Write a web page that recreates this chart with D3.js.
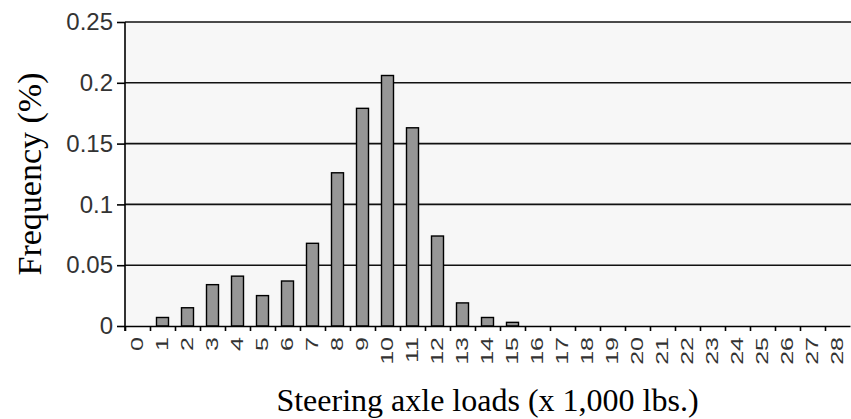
<!DOCTYPE html>
<html>
<head>
<meta charset="utf-8">
<script src="https://cdn.jsdelivr.net/npm/d3@7"></script>
<style>
  html, body { margin: 0; padding: 0; background: #fff; }
  svg { display: block; }
</style>
</head>
<body>
<div class="graphic"></div>
<script>
// steering axle load spectrum
var loads = d3.range(0, 29)   // x 1,000 lbs
var freq = [0, 0.007, 0.015, 0.034, 0.041, 0.025, 0.037, 0.068, 0.126, 0.179,
            0.206, 0.163, 0.074, 0.019, 0.007, 0.003, 0, 0, 0, 0,
            0, 0, 0, 0, 0, 0, 0, 0, 0]
var yTicks = [0, 0.05, 0.1, 0.15, 0.2, 0.25]
var yTickLabels = ['0', '0.05', '0.1', '0.15', '0.2', '0.25']
var xTitle = 'Steering axle loads (x 1,000 lbs.)'
var yTitle = 'Frequency (%)'

var width = 851
var height = 419
var plot = { left: 125, right: 850, top: 22, bottom: 326 }

var svg = d3.select('.graphic').append('svg')
    .attr('width', width)
    .attr('height', height)

var x = d3.scaleBand()
    .domain(loads)
    .range([plot.left, plot.right])
    .paddingInner(0.52)
    .paddingOuter(0.26)

// category boundaries for the tick marks
var xEdge = d3.scaleLinear()
    .domain([0, loads.length])
    .range([plot.left, plot.right])

var y = d3.scaleLinear()
    .domain([0, 0.25])
    .range([plot.bottom, plot.top])

// plot area
svg.append('rect')
    .attr('x', plot.left)
    .attr('y', plot.top)
    .attr('width', plot.right - plot.left + 1)
    .attr('height', plot.bottom - plot.top)
    .attr('fill', '#f7f7f7')

// gridlines
svg.append('g')
    .selectAll('line')
    .data(yTicks.filter(function(d) { return d > 0 }))
    .join('line')
    .attr('x1', plot.left)
    .attr('x2', width)
    .attr('y1', function(d) { return y(d) })
    .attr('y2', function(d) { return y(d) })
    .attr('stroke', '#111')
    .attr('stroke-width', 1.6)

// bars
svg.append('g')
    .selectAll('rect')
    .data(loads.filter(function(d) { return freq[d] > 0 }))
    .join('rect')
    .attr('x', function(d) { return x(d) })
    .attr('y', function(d) { return y(freq[d]) })
    .attr('width', x.bandwidth())
    .attr('height', function(d) { return y(0) - y(freq[d]) })
    .attr('fill', '#969696')
    .attr('stroke', '#000')
    .attr('stroke-width', 1.4)

// y axis
var yAxis = svg.append('g')
    .attr('transform', 'translate(' + plot.left + ',0)')
    .call(d3.axisLeft(y)
        .tickValues(yTicks)
        .tickFormat(function(d, i) { return yTickLabels[i] })
        .tickSize(8)
        .tickPadding(4))
yAxis.select('.domain')
    .attr('d', 'M0,' + plot.top + 'V' + (plot.bottom + 5))
    .attr('stroke', '#000')
    .attr('stroke-width', 1.6)
yAxis.selectAll('.tick line').attr('stroke', '#000').attr('stroke-width', 1.6)
yAxis.selectAll('text')
    .attr('fill', '#333')
    .style('font-family', '"Liberation Sans", Arial, sans-serif')
    .style('font-size', '24px')

// x axis: ticks between categories
var xTickAxis = svg.append('g')
    .attr('transform', 'translate(0,' + plot.bottom + ')')
    .call(d3.axisBottom(xEdge)
        .tickValues(d3.range(0, loads.length))
        .tickFormat('')
        .tickSize(5)
        .tickSizeOuter(0))
xTickAxis.select('.domain').attr('stroke', '#000').attr('stroke-width', 1.6)
xTickAxis.selectAll('.tick line').attr('stroke', '#000').attr('stroke-width', 1.6)

// x labels, rotated
svg.append('g')
    .selectAll('text')
    .data(loads)
    .join('text')
    .attr('transform', function(d) {
        return 'translate(' + (x(d) + x.bandwidth() / 2) + ',' + (plot.bottom + 11) + ') rotate(-90) scale(1,0.68)'
    })
    .attr('text-anchor', 'end')
    .attr('dy', '0.35em')
    .attr('fill', '#333')
    .style('font-family', '"Liberation Sans", Arial, sans-serif')
    .style('font-size', '25px')
    .text(function(d) { return d })

// titles
svg.append('text')
    .attr('x', (plot.left + plot.right) / 2)
    .attr('y', 411)
    .attr('text-anchor', 'middle')
    .attr('fill', '#000')
    .style('font-family', '"Liberation Serif", "Times New Roman", serif')
    .style('font-size', '32px')
    .text(xTitle)

svg.append('text')
    .attr('transform', 'translate(41,' + ((plot.top + plot.bottom) / 2) + ') rotate(-90)')
    .attr('text-anchor', 'middle')
    .attr('fill', '#000')
    .style('font-family', '"Liberation Serif", "Times New Roman", serif')
    .style('font-size', '34px')
    .text(yTitle)
</script>
</body>
</html>
